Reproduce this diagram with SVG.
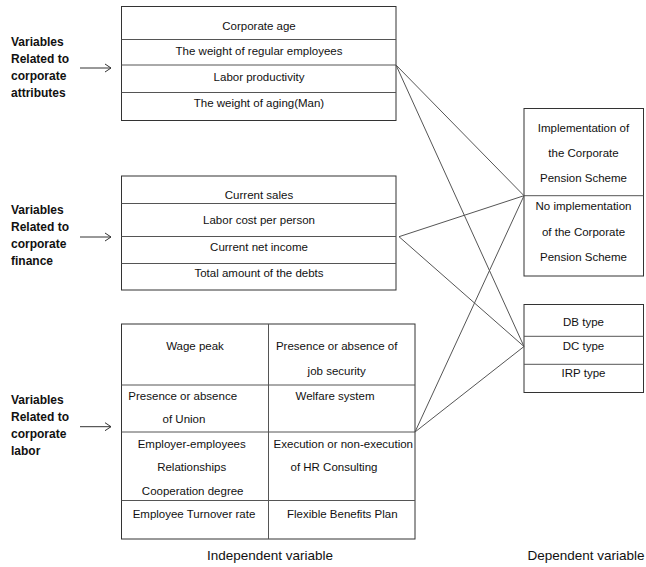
<svg xmlns="http://www.w3.org/2000/svg" width="646" height="567" viewBox="0 0 646 567">
<style>
.bx{fill:#fff;stroke:#333;stroke-width:1}
.dv{stroke:#555;stroke-width:1;fill:none}
.t{font-family:"Liberation Sans",Arial,sans-serif;font-size:11.5px;fill:#111;text-anchor:middle}
.lb{font-family:"Liberation Sans",Arial,sans-serif;font-size:12px;font-weight:bold;fill:#111}
.ft{font-family:"Liberation Sans",Arial,sans-serif;font-size:13.5px;fill:#111;text-anchor:middle}
.cn{stroke:#555;stroke-width:1;fill:none}
.ar{stroke:#333;stroke-width:1;fill:none}
</style>
<defs>
<marker id="ah" markerWidth="10" markerHeight="10" refX="8" refY="5" orient="auto" markerUnits="userSpaceOnUse">
<path d="M2,1 L8,5 L2,9" fill="none" stroke="#333" stroke-width="1"/>
</marker>
</defs>
<rect width="646" height="567" fill="#fff"/>

<g id="label-attributes">
<text class="lb" x="11" y="46">Variables</text>
<text class="lb" x="11" y="63">Related to</text>
<text class="lb" x="11" y="80">corporate</text>
<text class="lb" x="11" y="97">attributes</text>
</g>
<g id="label-finance">
<text class="lb" x="11" y="214">Variables</text>
<text class="lb" x="11" y="231">Related to</text>
<text class="lb" x="11" y="248">corporate</text>
<text class="lb" x="11" y="265">finance</text>
</g>
<g id="label-labor">
<text class="lb" x="11" y="403.5">Variables</text>
<text class="lb" x="11" y="421">Related to</text>
<text class="lb" x="11" y="438">corporate</text>
<text class="lb" x="11" y="455">labor</text>
</g>

<g id="box-attributes">
<rect class="bx" x="121.5" y="6.5" width="274.5" height="114"/>
<line class="dv" x1="121.5" y1="39.5" x2="396" y2="39.5"/>
<line class="dv" x1="121.5" y1="65" x2="396" y2="65"/>
<line class="dv" x1="121.5" y1="92.5" x2="396" y2="92.5"/>
<text class="t" x="259" y="29.7">Corporate age</text>
<text class="t" x="259" y="54.7">The weight of regular employees</text>
<text class="t" x="259" y="80.7">Labor productivity</text>
<text class="t" x="259" y="107.3">The weight of aging(Man)</text>
</g>

<g id="box-finance">
<rect class="bx" x="121.5" y="176" width="274.5" height="114"/>
<line class="dv" x1="121.5" y1="203.5" x2="396" y2="203.5"/>
<line class="dv" x1="121.5" y1="236.5" x2="396" y2="236.5"/>
<line class="dv" x1="121.5" y1="263.5" x2="396" y2="263.5"/>
<text class="t" x="259" y="199">Current sales</text>
<text class="t" x="259" y="224.3">Labor cost per person</text>
<text class="t" x="259" y="250.7">Current net income</text>
<text class="t" x="259" y="277.3">Total amount of the debts</text>
</g>

<g id="box-labor">
<rect class="bx" x="121.5" y="324" width="293.5" height="215"/>
<line class="dv" x1="268.5" y1="324" x2="268.5" y2="539"/>
<line class="dv" x1="121.5" y1="385" x2="415" y2="385"/>
<line class="dv" x1="121.5" y1="432" x2="415" y2="432"/>
<line class="dv" x1="121.5" y1="500.5" x2="415" y2="500.5"/>
<text class="t" x="195" y="350">Wage peak</text>
<text class="t" x="336.7" y="350">Presence or absence of</text>
<text class="t" x="336.7" y="375">job security</text>
<text class="t" x="182.7" y="400">Presence or absence</text>
<text class="t" x="184" y="423">of Union</text>
<text class="t" x="335" y="400">Welfare system</text>
<text class="t" x="191.7" y="448">Employer-employees</text>
<text class="t" x="191.7" y="470.7">Relationships</text>
<text class="t" x="192.7" y="494.7">Cooperation degree</text>
<text class="t" x="343.3" y="448">Execution or non-execution</text>
<text class="t" x="334" y="470.7">of HR Consulting</text>
<text class="t" x="194" y="518.3">Employee Turnover rate</text>
<text class="t" x="342.3" y="518.3">Flexible Benefits Plan</text>
</g>

<g id="box-implementation">
<rect class="bx" x="524" y="108.5" width="119.5" height="167.5"/>
<line class="dv" x1="524" y1="195.7" x2="643.5" y2="195.7"/>
<text class="t" x="583.5" y="131.7">Implementation of</text>
<text class="t" x="583.5" y="157.3">the Corporate</text>
<text class="t" x="583.5" y="182.3">Pension Scheme</text>
<text class="t" x="583.5" y="209.7">No implementation</text>
<text class="t" x="583.5" y="235.7">of the Corporate</text>
<text class="t" x="583.5" y="261.3">Pension Scheme</text>
</g>

<g id="box-type">
<rect class="bx" x="524" y="304.5" width="119.5" height="88"/>
<line class="dv" x1="524" y1="336.3" x2="643.5" y2="336.3"/>
<line class="dv" x1="524" y1="364.3" x2="643.5" y2="364.3"/>
<text class="t" x="583.5" y="325.7">DB type</text>
<text class="t" x="583.5" y="350">DC type</text>
<text class="t" x="583.5" y="376.7">IRP type</text>
</g>

<g id="connectors">
<line class="ar" x1="80" y1="68" x2="111" y2="68" marker-end="url(#ah)"/>
<line class="ar" x1="80" y1="237" x2="111" y2="237" marker-end="url(#ah)"/>
<line class="ar" x1="80" y1="426.7" x2="111" y2="426.7" marker-end="url(#ah)"/>
<line class="cn" x1="396" y1="65" x2="524" y2="195.7"/>
<line class="cn" x1="396" y1="65" x2="524" y2="346.5"/>
<line class="cn" x1="399" y1="236.7" x2="524" y2="195.7"/>
<line class="cn" x1="399" y1="236.7" x2="524" y2="346.5"/>
<line class="cn" x1="415" y1="432" x2="524" y2="195.7"/>
<line class="cn" x1="415" y1="432" x2="524" y2="346.5"/>
</g>

<g id="footer">
<text class="ft" x="270" y="560">Independent variable</text>
<text class="ft" x="586" y="560">Dependent variable</text>
</g>
</svg>
